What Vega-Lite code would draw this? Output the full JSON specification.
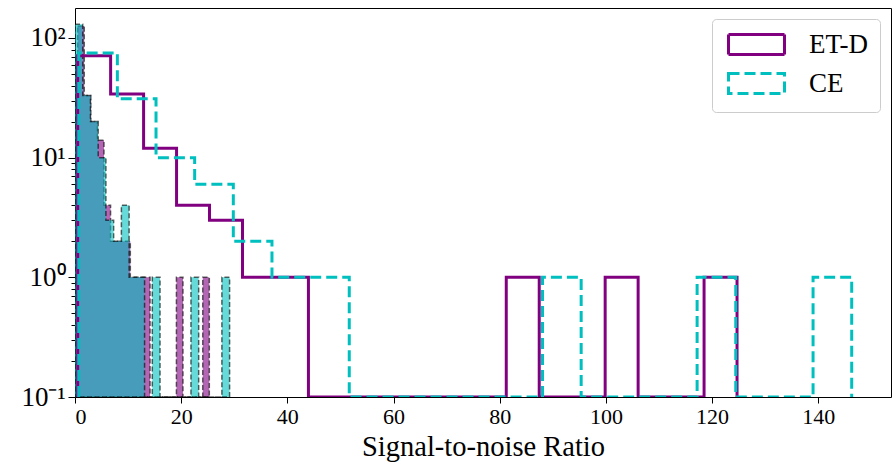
{
  "$schema": "https://vega.github.io/schema/vega-lite/v6.json",
  "width": 816,
  "height": 389,
  "autosize": {"type": "none"},
  "padding": {"left": 75, "top": 8, "right": 3, "bottom": 68},
  "background": "white",
  "config": {
    "view": {"stroke": "black", "strokeWidth": 1},
    "font": "Liberation Serif",
    "axis": {"labelFont": "Liberation Serif", "titleFont": "Liberation Serif", "labelColor": "black", "titleColor": "black", "tickColor": "black", "domainColor": "black", "grid": false},
    "legend": {"labelFont": "Liberation Serif"}
  },
  "datasets": {
    "etd_fine": [
      {"x": 0.5, "n": 126},
      {"x": 1.74, "n": 33},
      {"x": 2.98, "n": 20},
      {"x": 4.22, "n": 14},
      {"x": 5.46, "n": 4},
      {"x": 6.7, "n": 2},
      {"x": 7.94, "n": 2},
      {"x": 9.18, "n": 2},
      {"x": 10.42, "n": 1},
      {"x": 11.66, "n": 1},
      {"x": 12.9, "n": 1},
      {"x": 14.14, "n": 0.1},
      {"x": 19.1, "n": 1},
      {"x": 20.34, "n": 0.1},
      {"x": 24.06, "n": 1},
      {"x": 25.3, "n": 0.1}
    ],
    "ce_fine": [
      {"x": 0.0, "n": 130},
      {"x": 1.456, "n": 33},
      {"x": 2.912, "n": 20},
      {"x": 4.368, "n": 10},
      {"x": 5.824, "n": 3},
      {"x": 7.28, "n": 2},
      {"x": 8.736, "n": 4},
      {"x": 10.192, "n": 1},
      {"x": 11.648, "n": 1},
      {"x": 13.104, "n": 0.1},
      {"x": 14.56, "n": 1},
      {"x": 16.016, "n": 0.1},
      {"x": 21.84, "n": 1},
      {"x": 23.296, "n": 0.1},
      {"x": 27.664, "n": 1},
      {"x": 29.12, "n": 0.1}
    ],
    "steps": [
      {"det": "ET-D", "i": 0, "x": 0.5, "y": 0.1},
      {"det": "ET-D", "i": 1, "x": 0.5, "y": 71},
      {"det": "ET-D", "i": 2, "x": 6.71, "y": 34},
      {"det": "ET-D", "i": 3, "x": 12.92, "y": 12},
      {"det": "ET-D", "i": 4, "x": 19.13, "y": 4},
      {"det": "ET-D", "i": 5, "x": 25.34, "y": 3},
      {"det": "ET-D", "i": 6, "x": 31.55, "y": 1},
      {"det": "ET-D", "i": 7, "x": 37.76, "y": 1},
      {"det": "ET-D", "i": 8, "x": 43.97, "y": 0.1},
      {"det": "ET-D", "i": 9, "x": 81.23, "y": 1},
      {"det": "ET-D", "i": 10, "x": 87.44, "y": 0.1},
      {"det": "ET-D", "i": 11, "x": 99.86, "y": 1},
      {"det": "ET-D", "i": 12, "x": 106.07, "y": 0.1},
      {"det": "ET-D", "i": 13, "x": 118.49, "y": 1},
      {"det": "ET-D", "i": 14, "x": 124.7, "y": 0.1},
      {"det": "CE", "i": 0, "x": 0.7, "y": 0.1},
      {"det": "CE", "i": 1, "x": 0.7, "y": 75},
      {"det": "CE", "i": 2, "x": 7.98, "y": 31},
      {"det": "CE", "i": 3, "x": 15.26, "y": 10},
      {"det": "CE", "i": 4, "x": 22.54, "y": 6},
      {"det": "CE", "i": 5, "x": 29.82, "y": 2},
      {"det": "CE", "i": 6, "x": 37.1, "y": 1},
      {"det": "CE", "i": 7, "x": 44.38, "y": 1},
      {"det": "CE", "i": 8, "x": 51.66, "y": 0.1},
      {"det": "CE", "i": 9, "x": 88.06, "y": 1},
      {"det": "CE", "i": 10, "x": 95.34, "y": 0.1},
      {"det": "CE", "i": 11, "x": 117.18, "y": 1},
      {"det": "CE", "i": 12, "x": 124.46, "y": 0.1},
      {"det": "CE", "i": 13, "x": 139.02, "y": 1},
      {"det": "CE", "i": 14, "x": 146.3, "y": 0.1}
    ]
  },
  "resolve": {"scale": {"y": "shared"}, "axis": {"y": "independent"}},
  "layer": [
    {
      "data": {"name": "etd_fine"},
      "mark": {"type": "area", "orient": "vertical", "interpolate": "step-after", "fill": "#800080", "fillOpacity": 0.6, "stroke": "black", "strokeOpacity": 0.6, "strokeDash": [5, 2.5], "strokeWidth": 1.5, "clip": true},
      "encoding": {
        "x": {"field": "x", "type": "quantitative", "scale": {"domain": [0, 153.7], "nice": false, "zero": false},
              "axis": {"values": [0, 20, 40, 60, 80, 100, 120, 140], "title": "Signal-to-noise Ratio", "titleFont": "Liberation Serif", "titleFontSize": 28.5, "titleFontWeight": "normal", "titlePadding": 5, "labelFont": "Liberation Serif", "labelFontSize": 22, "tickSize": 6, "labelPadding": 3, "domain": false}},
        "y": {"field": "n", "type": "quantitative", "scale": {"type": "log", "domain": [0.1, 178], "nice": false},
              "axis": {"orient": "left", "values": [0.1, 1, 10, 100], "labelExpr": "datum.value >= 100 ? '10²' : datum.value >= 10 ? '10¹' : datum.value >= 1 ? '10⁰' : '10⁻¹'", "title": null, "tickSize": 7, "labelFont": "Liberation Serif", "labelFontSize": 27, "labelPadding": 3, "domain": false}},
        "y2": {"datum": 0.1}
      }
    },
    {
      "data": {"name": "ce_fine"},
      "mark": {"type": "area", "orient": "vertical", "interpolate": "step-after", "fill": "#00bfbf", "fillOpacity": 0.6, "stroke": "black", "strokeOpacity": 0.6, "strokeDash": [5, 2.5], "strokeWidth": 1.5, "clip": true},
      "encoding": {
        "x": {"field": "x", "type": "quantitative",
              "axis": {"values": [0, 20, 40, 60, 80, 100, 120, 140], "title": "Signal-to-noise Ratio", "titleFont": "Liberation Serif", "titleFontSize": 28.5, "titleFontWeight": "normal", "titlePadding": 5, "labelFont": "Liberation Serif", "labelFontSize": 22, "tickSize": 6, "labelPadding": 3, "domain": false}},
        "y": {"field": "n", "type": "quantitative",
              "axis": {"orient": "left", "values": [0.2, 0.3, 0.4, 0.5, 0.6, 0.7, 0.8, 0.9, 2, 3, 4, 5, 6, 7, 8, 9, 20, 30, 40, 50, 60, 70, 80, 90], "labels": false, "title": null, "tickSize": 4, "domain": false}},
        "y2": {"datum": 0.1}
      }
    },
    {
      "data": {"name": "steps"},
      "mark": {"type": "line", "interpolate": "step-after", "strokeWidth": 3, "clip": true},
      "encoding": {
        "x": {"field": "x", "type": "quantitative",
              "axis": {"values": [0, 20, 40, 60, 80, 100, 120, 140], "title": "Signal-to-noise Ratio", "titleFont": "Liberation Serif", "titleFontSize": 28.5, "titleFontWeight": "normal", "titlePadding": 5, "labelFont": "Liberation Serif", "labelFontSize": 22, "tickSize": 6, "labelPadding": 3, "domain": false}},
        "y": {"field": "y", "type": "quantitative", "axis": null},
        "order": {"field": "i", "type": "quantitative"},
        "stroke": {"field": "det", "type": "nominal", "scale": {"domain": ["ET-D", "CE"], "range": ["#800080", "#00bfbf"]},
                   "legend": {"title": null, "orient": "top-right", "offset": 11, "symbolType": "M-2.8,-1L2.8,-1L2.8,1L-2.8,1Z", "symbolSize": 400, "symbolStrokeWidth": 3, "symbolOffset": 19, "labelFontSize": 27, "labelFont": "Liberation Serif", "labelColor": "black", "rowPadding": 6, "padding": 12, "fillColor": "white", "strokeColor": "#cccccc", "cornerRadius": 4, "labelOffset": 39}},
        "strokeDash": {"field": "det", "type": "nominal", "scale": {"domain": ["ET-D", "CE"], "range": [[1, 0], [11, 5]]},
                   "legend": {"title": null, "orient": "top-right", "offset": 11, "symbolType": "M-2.8,-1L2.8,-1L2.8,1L-2.8,1Z", "symbolSize": 400, "symbolStrokeWidth": 3, "symbolOffset": 19, "labelFontSize": 27, "labelFont": "Liberation Serif", "labelColor": "black", "rowPadding": 6, "padding": 12, "fillColor": "white", "strokeColor": "#cccccc", "cornerRadius": 4, "labelOffset": 39}}
      }
    }
  ]
}
